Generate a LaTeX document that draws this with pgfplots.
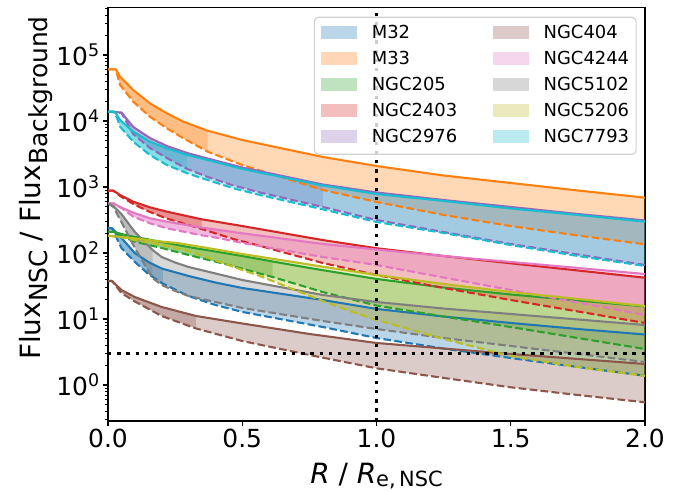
\documentclass[border=0pt]{standalone}
\usepackage{fontspec}
\setmainfont{DejaVu Sans}
\usepackage{pgfplots}
\pgfplotsset{compat=1.18}
\usepgfplotslibrary{fillbetween}
\definecolor{c0}{HTML}{1F77B4}
\definecolor{c1}{HTML}{FF7F0E}
\definecolor{c2}{HTML}{2CA02C}
\definecolor{c3}{HTML}{D62728}
\definecolor{c4}{HTML}{9467BD}
\definecolor{c5}{HTML}{8C564B}
\definecolor{c6}{HTML}{E377C2}
\definecolor{c7}{HTML}{7F7F7F}
\definecolor{c8}{HTML}{BCBD22}
\definecolor{c9}{HTML}{17BECF}
\newcommand{\gal}[5]{%
 \addplot[forget plot, name path=#1u, draw=#2, line width=2.08bp, line join=round] coordinates {#3};
 \addplot[forget plot, name path=#1l, draw=#2, line width=2.08bp, line join=round, dash pattern=on 7.71bp off 3.33bp] coordinates {#4};
 \addplot[forget plot, fill=#2, fill opacity=0.3, draw=none] fill between[of=#1u and #1l];
 \addplot[forget plot, fill=#2, fill opacity=0.3, draw=none] fill between[of=#1u and #1l, soft clip={(axis cs:0,0.01) rectangle (axis cs:#5,1e7)}];
}
\begin{document}
\begin{tikzpicture}
\begin{axis}[
 scale only axis, width=537bp, height=413.7bp,
 xmin=0, xmax=2, ymin=0.2847, ymax=5.28e5, ymode=log,
 axis line style={line width=1.11bp},
 tick align=outside, tick pos=left,
 xtick={0,0.5,1,1.5,2}, xticklabels={0.0,0.5,1.0,1.5,2.0},
 ytick={1,10,100,1000,10000,100000},
 yticklabels={10\textsuperscript{0},10\textsuperscript{1},10\textsuperscript{2},10\textsuperscript{3},10\textsuperscript{4},10\textsuperscript{5}},
 minor ytick={0.3,0.4,0.5,0.6,0.7,0.8,0.9,2,3,4,5,6,7,8,9,20,30,40,50,60,70,80,90,200,300,400,500,600,700,800,900,2000,3000,4000,5000,6000,7000,8000,9000,20000,30000,40000,50000,60000,70000,80000,90000,200000,300000,400000,500000},
 major tick length=4.86bp, minor tick length=2.78bp,
 major tick style={line width=1.11bp,black}, minor tick style={line width=0.83bp,black},
 tick label style={font=\fontsize{25}{30}\selectfont},
 xlabel={\textit{R} / \textit{R}\raisebox{-3bp}{\fontsize{21}{24}\selectfont e,\,NSC}},
 ylabel={Flux\raisebox{-7bp}{\fontsize{25}{28}\selectfont NSC} / Flux\raisebox{-7bp}{\fontsize{25}{28}\selectfont Background}},
 xlabel style={font=\fontsize{28}{33}\selectfont, at={(axis description cs:0.5,0)}, anchor=base, yshift=-62bp},
 ylabel style={font=\fontsize{28}{33}\selectfont, at={(axis description cs:-0.1266,0.563)}, anchor=base},
 legend columns=2,
 legend cell align=left,
 legend image code/.code={\path[#1, draw=none, sharp corners] (0bp,-4.8bp) rectangle (36bp,7.8bp);},
 legend style={at={(axis description cs:1,1)}, anchor=north east, xshift=-8.3bp, yshift=-9.4bp,
   draw=black!18, line width=1.11bp, rounded corners=4bp, fill=white, fill opacity=0.8, text opacity=1,
   font=\fontsize{18}{22}\selectfont, inner xsep=7bp, inner ysep=8.5bp,
   nodes={inner sep=0pt, text height=13bp, text depth=3bp}, row sep=10bp,
   /tikz/every odd column/.style={column sep=14.4bp},
   /tikz/every even column/.style={column sep=36bp}},
]
\gal{a}{c0}{(0,237) (0.015,237) (0.05,169) (0.1,100) (0.15,73.1) (0.2,58.2) (0.3,44.8) (0.4,35.7) (0.5,29.5) (0.8,19.4) (1.0,14.2) (1.25,10.9) (1.5,8.70) (1.75,7.05) (2.0,5.82)}{(0,237) (0.015,237) (0.05,119) (0.1,73.1) (0.15,48.1) (0.2,35.1) (0.3,22.3) (0.4,16.3) (0.5,12.8) (0.8,7.56) (1.0,5.15) (1.25,3.57) (1.5,2.56) (1.75,1.87) (2.0,1.38)}{0.204}
\gal{b}{c1}{(0,60700) (0.029,60700) (0.045,46900) (0.094,29500) (0.156,18540) (0.219,13090) (0.281,9750) (0.371,7130) (0.5,5150) (0.8,2850) (1.0,2080) (1.25,1493) (1.5,1150) (1.75,885) (2.0,689)}{(0,60700) (0.029,60700) (0.045,35100) (0.094,19600) (0.156,11620) (0.219,7750) (0.281,5470) (0.371,3430) (0.5,2155) (0.8,901) (1.0,593) (1.25,377) (1.5,256) (1.75,184) (2.0,135.5)}{0.371}
\gal{c}{c2}{(0,210) (0.02,210) (0.05,194) (0.1,175) (0.2,147) (0.3,123) (0.5,90.1) (0.613,74.3) (0.75,59.3) (1.0,40.4) (1.25,30.0) (1.5,23.5) (1.75,19.1) (2.0,15.5)}{(0,210) (0.02,210) (0.05,181) (0.1,148) (0.2,119) (0.3,93.3) (0.45,65.8) (0.613,43.3) (0.8,25.6) (1.0,16.0) (1.25,10.9) (1.5,7.56) (1.75,5.15) (2.0,3.51)}{0.613}
\gal{d}{c3}{(0,879) (0.02,879) (0.045,757) (0.094,599) (0.156,492) (0.219,423) (0.349,324) (0.5,256) (0.8,157) (1.0,118) (1.25,90.1) (1.5,69.8) (1.75,54.3) (2.0,42.2)}{(0,879) (0.02,879) (0.045,731) (0.094,553) (0.156,418) (0.219,333) (0.349,231) (0.467,163) (0.566,128) (0.8,70.5) (1.0,46.4) (1.25,29.5) (1.5,19.4) (1.75,13.0) (2.0,8.70)}{0.349}
\gal{e}{c4}{(0,13840) (0.05,13450) (0.094,8110) (0.156,5525) (0.219,4180) (0.295,3275) (0.371,2703) (0.5,1974) (0.8,1091) (1.0,826) (1.25,635) (1.5,498) (1.75,390) (2.0,311)}{(0,13840) (0.05,13220) (0.094,6355) (0.156,3900) (0.219,2750) (0.295,1875) (0.371,1419) (0.467,1054) (0.566,826) (0.8,498) (1.0,316) (1.25,208) (1.5,137) (1.75,94.9) (2.0,65.8)}{0.8}
\gal{f}{c5}{(0,37.6) (0.015,37.6) (0.05,27.5) (0.1,21.5) (0.2,15.2) (0.328,11.1) (0.5,8.55) (0.75,5.93) (1.0,4.33) (1.25,3.57) (1.5,2.95) (1.75,2.48) (2.0,2.08)}{(0,37.6) (0.015,37.6) (0.05,24.8) (0.1,18.4) (0.2,11.1) (0.328,7.18) (0.5,4.64) (0.75,2.85) (1.0,1.79) (1.25,1.28) (1.5,0.923) (1.75,0.705) (2.0,0.547)}{0.328}
\gal{g}{c6}{(0,566) (0.02,566) (0.045,498) (0.094,408) (0.156,336) (0.219,298) (0.343,245) (0.5,199) (0.8,137) (1.0,113) (1.25,90) (1.5,73.1) (1.75,59.3) (2.0,48.1)}{(0,566) (0.02,566) (0.05,480) (0.094,355) (0.156,282) (0.219,237) (0.343,187) (0.42,166) (0.5,142) (0.8,86.9) (1.0,65.8) (1.25,42.5) (1.5,27.5) (1.75,17.8) (2.0,11.5)}{0.42}
\gal{h}{c7}{(0,566) (0.02,515) (0.05,390) (0.1,208) (0.166,111) (0.2,86.9) (0.25,71.8) (0.3,61.4) (0.5,39.0) (0.8,23.1) (1.0,18.1) (1.25,14.4) (1.5,11.9) (1.75,9.83) (2.0,8.11)}{(0,566) (0.02,498) (0.05,295) (0.1,119) (0.166,41.8) (0.2,32.7) (0.25,26.6) (0.3,22.3) (0.5,14.7) (0.8,9.33) (1.0,7.05) (1.25,5.15) (1.5,3.90) (1.75,2.95) (2.0,2.23)}{0.166}
\gal{i}{c8}{(0,183) (0.05,175) (0.1,166) (0.2,149) (0.256,142) (0.35,123) (0.5,96.6) (0.8,62.0) (1.0,46.4) (1.25,33.9) (1.5,25.6) (1.75,20.1) (2.0,15.7)}{(0,183) (0.05,172) (0.1,157) (0.2,132) (0.3,107) (0.417,73.1) (0.5,55.3) (0.566,44.8) (0.8,18.7) (0.9,13.2) (1.0,9.66) (1.25,4.98) (1.5,2.75) (1.75,1.87) (2.0,1.37)}{0.256}
\gal{j}{c9}{(0,13840) (0.025,13840) (0.045,10350) (0.094,6890) (0.156,4855) (0.219,3855) (0.295,3055) (0.371,2565) (0.5,1875) (0.8,1054) (1.0,783) (1.25,614) (1.5,472) (1.75,377) (2.0,298)}{(0,13840) (0.025,13840) (0.045,8200) (0.094,4855) (0.156,3055) (0.219,2155) (0.295,1614) (0.371,1277) (0.467,955) (0.566,757) (0.8,459) (1.0,295) (1.25,201) (1.5,132) (1.75,90) (2.0,63.5)}{0.295}
\addplot[forget plot, black, line width=3.47bp, dash pattern=on 3.47bp off 5.73bp] coordinates {(0,3) (2,3)};
\addplot[forget plot, black, line width=3.47bp, dash pattern=on 3.47bp off 5.73bp] coordinates {(1,0.2847) (1,5.28e5)};
\addlegendimage{fill=c0, fill opacity=0.3}\addlegendentry{M32}
\addlegendimage{fill=c5, fill opacity=0.3}\addlegendentry{NGC404}
\addlegendimage{fill=c1, fill opacity=0.3}\addlegendentry{M33}
\addlegendimage{fill=c6, fill opacity=0.3}\addlegendentry{NGC4244}
\addlegendimage{fill=c2, fill opacity=0.3}\addlegendentry{NGC205}
\addlegendimage{fill=c7, fill opacity=0.3}\addlegendentry{NGC5102}
\addlegendimage{fill=c3, fill opacity=0.3}\addlegendentry{NGC2403}
\addlegendimage{fill=c8, fill opacity=0.3}\addlegendentry{NGC5206}
\addlegendimage{fill=c4, fill opacity=0.3}\addlegendentry{NGC2976}
\addlegendimage{fill=c9, fill opacity=0.3}\addlegendentry{NGC7793}
\end{axis}
\pgfresetboundingbox
\path[use as bounding box] (-108bp,-70bp) rectangle (577bp,421bp);
\end{tikzpicture}
\end{document}
